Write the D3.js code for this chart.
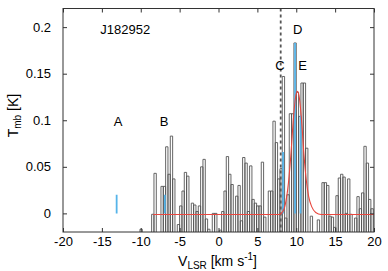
<!DOCTYPE html>
<html>
<head>
<meta charset="utf-8">
<script src="https://cdn.jsdelivr.net/npm/d3@7"></script>
<style>
  body { margin: 0; background: #fff; }
  svg text { font-family: "Liberation Sans", Arial, Helvetica, sans-serif; fill: #000; }
</style>
</head>
<body>
<div id="chart"></div>
<script>
// Spectrum channels (km/s) and main-beam temperature (K)
var velocity = [
  -10.25,-9.95,-9.65,-9.35,-9.05,-8.75,-8.45,-8.15,-7.85,-7.55,
  -7.25,-6.95,-6.65,-6.35,-6.05,-5.75,-5.45,-5.15,-4.85,-4.55,
  -4.25,-3.95,-3.65,-3.35,-3.05,-2.75,-2.45,-2.15,-1.85,-1.55,
  -1.25,-0.95,-0.65,-0.35,-0.05,0.25,0.55,0.85,1.15,1.45,
  1.75,2.05,2.35,2.65,2.95,3.25,3.55,3.85,4.15,4.45,
  4.75,5.05,5.35,5.65,5.95,6.25,6.55,6.85,7.15,7.45,
  7.75,8.05,8.35,8.65,8.95,9.25,9.55,9.85,10.15,10.45,
  10.75,11.05,11.35,11.65,11.95,12.25,12.55,12.85,13.15,13.45,
  13.75,14.05,14.35,14.65,14.95,15.25,15.55,15.85,16.15,16.45,
  16.75,17.05,17.35,17.65,17.95,18.25,18.55,18.85,19.15,19.45,
  19.75
];
var tmb = [
  -0.03,-0.017,-0.03,-0.03,-0.03,-0.03,-0.001,0.043,-0.03,-0.03,
  0.029,0.029,0.0715,0.042,0.083,0.037,-0.03,-0.012,0.008,0.024,
  0.044,0.04,-0.03,0.011,0.009,0.002,0.008,0.05,0.058,-0.006,
  -0.017,-0.03,0.0,0.0,-0.03,-0.018,0.002,0.024,0.061,0.042,
  0.031,-0.03,0.0185,0.03,-0.008,0.06,0.054,0.002,0.051,0.015,
  0.011,0.008,0.008,0.055,-0.004,-0.03,0.024,0.024,0.099,0.076,
  0.037,0.048,0.147,-0.005,0.02,0.107,0.107,0.183,0.13,0.104,
  0.14,0.14,0.07,-0.03,-0.003,-0.03,-0.03,-0.007,-0.03,0.033,
  0.033,0.03,-0.003,-0.004,-0.015,0.019,0.038,0.042,0.039,0.0,
  0.037,-0.001,-0.03,-0.005,0.018,0.005,0.022,0.072,0.054,0.015,
  0.005
];
var chanWidth = 0.3;

// Fitted profile (red)
var fitVel = [-8.4, 7.8, 8.2, 8.6, 9.0, 9.3, 9.6, 9.9, 10.15, 10.4, 10.7, 11.0, 11.3, 11.6, 12.0, 12.5, 13.2, 20];
var fitT   = [-0.0012, -0.0012, 0.001, 0.01, 0.033, 0.062, 0.098, 0.124, 0.131, 0.124, 0.098, 0.062, 0.035, 0.018, 0.007, 0.001, -0.0012, -0.0012];

// Line markers (blue) and their labels
var lineNames = ["A", "B", "C", "D", "E"];
var lineVel = [-13.1, -6.9, 8.3, 9.85, 10.55];
var lineTop = [0.02, 0.02, 0.066, 0.183, 0.105];
var labelVel = [-12.9, -7.0, 7.9, 10.2, 10.8];
var labelT = [0.099, 0.099, 0.159, 0.198, 0.159];

var systemicVel = 8.0;
var sourceName = "J182952";

var xTicks = [-20, -15, -10, -5, 0, 5, 10, 15, 20];
var yTicks = [0, 0.05, 0.1, 0.15, 0.2];

// SVG area
var svgWidth = 388;
var svgHeight = 271;
var margin = { top: 8.5, right: 14, bottom: 39, left: 63 };
var width = svgWidth - margin.left - margin.right;
var height = svgHeight - margin.top - margin.bottom;

var svg = d3.select("#chart").append("svg")
    .attr("width", svgWidth)
    .attr("height", svgHeight);

var g = svg.append("g")
    .attr("transform", `translate(${margin.left}, ${margin.top})`);

var x = d3.scaleLinear().domain([-20, 20]).range([0, width]);
var y = d3.scaleLinear().domain([-0.02, 0.22]).range([height, 0]);

g.append("clipPath").attr("id", "plotclip")
  .append("rect").attr("width", width).attr("height", height);

var plot = g.append("g").attr("clip-path", "url(#plotclip)");

// spectrum channels
var chans = velocity.map((v, i) => ({ v: v, t: tmb[i] })).filter(d => d.t > -0.02);
plot.selectAll("path.chan")
    .data(chans)
    .enter()
    .append("path")
    .attr("class", "chan")
    .attr("d", d => {
      var x0 = x(d.v - chanWidth / 2), x1 = x(d.v + chanWidth / 2);
      return `M${x0},${height + 1}V${y(d.t)}H${x1}V${height + 1}`;
    })
    .attr("fill", "none")
    .attr("stroke", "#555")
    .attr("stroke-width", 0.9);

// systemic velocity
plot.append("line")
    .attr("x1", x(systemicVel)).attr("x2", x(systemicVel))
    .attr("y1", 0).attr("y2", height)
    .attr("stroke", "#555")
    .attr("stroke-width", 1.8)
    .attr("stroke-dasharray", "3,3");

// blue markers
plot.selectAll("line.mark")
    .data(lineVel)
    .enter()
    .append("line")
    .attr("class", "mark")
    .attr("x1", d => x(d)).attr("x2", d => x(d))
    .attr("y1", y(0))
    .attr("y2", (d, i) => y(lineTop[i]))
    .attr("stroke", "#56b4e9")
    .attr("stroke-width", 1.8);

// fit
var fitLine = d3.line()
    .x((d, i) => x(fitVel[i]))
    .y(d => y(d))
    .curve(d3.curveMonotoneX);
plot.append("path")
    .attr("d", fitLine(fitT))
    .attr("fill", "none")
    .attr("stroke", "#e8473f")
    .attr("stroke-width", 1.1);

// labels
g.selectAll("text.lbl")
    .data(lineNames)
    .enter()
    .append("text")
    .attr("class", "lbl")
    .attr("x", (d, i) => x(labelVel[i]))
    .attr("y", (d, i) => y(labelT[i]))
    .attr("dy", "0.36em")
    .attr("text-anchor", "middle")
    .style("font-size", "13px")
    .text(d => d);

g.append("text")
    .attr("x", x(-15.2))
    .attr("y", y(0.198))
    .attr("dy", "0.36em")
    .style("font-size", "13px")
    .text(sourceName);

// axes
var bottomAxis = d3.axisBottom(x).tickValues(xTicks).tickSizeInner(-4).tickSizeOuter(0).tickPadding(5);
var leftAxis = d3.axisLeft(y).tickValues(yTicks).tickSizeInner(-4).tickSizeOuter(0).tickPadding(12)
    .tickFormat(d => d === 0 ? "0" : d3.format("")(+d.toFixed(2)));
var topAxis = d3.axisTop(x).tickValues(xTicks).tickSizeInner(-4).tickSizeOuter(0).tickFormat("");
var rightAxis = d3.axisRight(y).tickValues(yTicks).tickSizeInner(-4).tickSizeOuter(0).tickFormat("");

var axB = g.append("g").attr("transform", `translate(0, ${height})`).call(bottomAxis);
var axL = g.append("g").call(leftAxis);
var axT = g.append("g").call(topAxis);
var axR = g.append("g").attr("transform", `translate(${width}, 0)`).call(rightAxis);

[axB, axL, axT, axR].forEach(a => {
  a.select(".domain").remove();
  a.selectAll("line").attr("stroke", "#333");
  a.selectAll("text").style("font-size", "13px").attr("fill", "#000");
});
axB.selectAll("text").text(d => d < 0 ? "-" + Math.abs(d) : d);

// frame
g.append("rect")
    .attr("x", 0).attr("y", 0)
    .attr("width", width).attr("height", height)
    .attr("fill", "none")
    .attr("stroke", "#333")
    .attr("stroke-width", 1);

// axis labels
var yl = g.append("text")
    .attr("transform", `translate(${17.5 - margin.left}, ${y(0.105)}) rotate(-90)`)
    .attr("text-anchor", "middle")
    .style("font-size", "14px");
yl.append("tspan").text("T");
yl.append("tspan").attr("dy", "3").style("font-size", "10px").text("mb");
yl.append("tspan").attr("dy", "-3").text(" [K]");

var xl = g.append("text")
    .attr("x", x(0) - 1)
    .attr("y", svgHeight - margin.top - 5)
    .attr("text-anchor", "middle")
    .style("font-size", "14px");
xl.append("tspan").text("V");
xl.append("tspan").attr("dy", "3").style("font-size", "10px").text("LSR");
xl.append("tspan").attr("dy", "-3").text(" [km s");
xl.append("tspan").attr("dy", "-6").style("font-size", "10px").text("-1");
xl.append("tspan").attr("dy", "6").text("]");
</script>
</body>
</html>
